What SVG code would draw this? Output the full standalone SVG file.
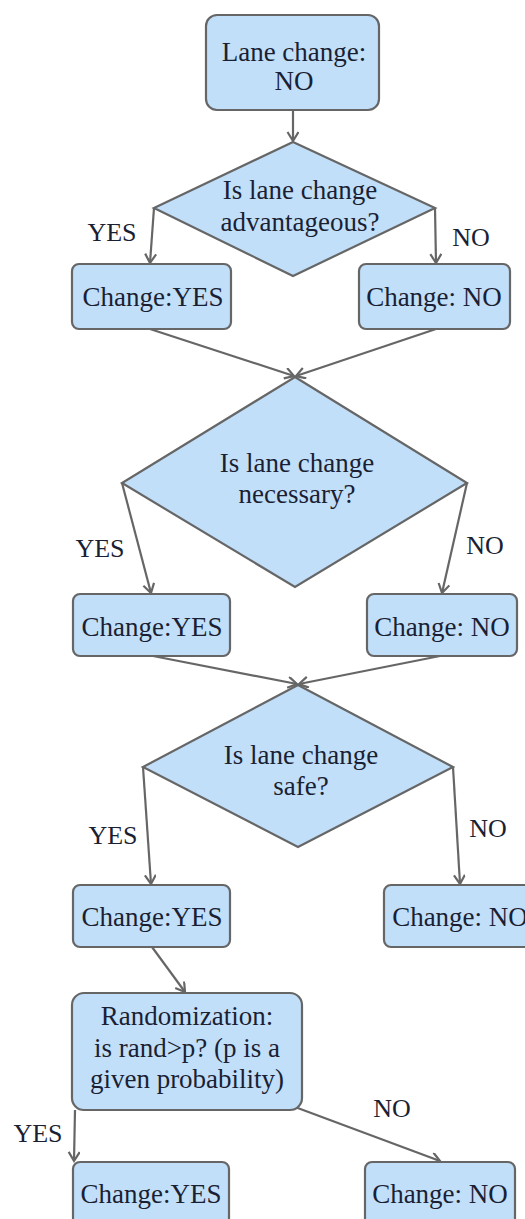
<svg xmlns="http://www.w3.org/2000/svg" width="525" height="1219" viewBox="0 0 525 1219">
<style>
.box{fill:#c2dffa;stroke:#666;stroke-width:2.2}
.t{font-family:'Liberation Serif','Times New Roman','DejaVu Serif',serif;font-size:27px;fill:#1b1f33;text-anchor:middle}
.lbl{font-family:'Liberation Serif','Times New Roman','DejaVu Serif',serif;font-size:26px;fill:#1b1f33;text-anchor:middle}
.c line{stroke:#666;stroke-width:2.2;fill:none;marker-end:url(#ah)}
</style>
<defs>
<marker id="ah" markerUnits="userSpaceOnUse" markerWidth="14" markerHeight="14" refX="10" refY="6" orient="auto">
<path d="M1,0.5 L10,6 L1,11.5" fill="none" stroke="#666" stroke-width="2.2"/>
</marker>
</defs>
<rect width="525" height="1219" fill="#fff"/>
<g class="c" id="connectors">
<line x1="293" y1="110" x2="293" y2="141"/>
<line x1="154" y1="208" x2="150" y2="263"/>
<line x1="435" y1="208" x2="436" y2="263"/>
<line x1="150" y1="329" x2="294" y2="376"/>
<line x1="436" y1="329" x2="296" y2="376"/>
<line x1="122" y1="483" x2="151" y2="593"/>
<line x1="467" y1="483" x2="442" y2="593"/>
<line x1="153" y1="656" x2="297" y2="684"/>
<line x1="440" y1="656" x2="299" y2="684"/>
<line x1="143" y1="767" x2="151" y2="884"/>
<line x1="453" y1="767" x2="460" y2="884"/>
<line x1="152" y1="947" x2="185" y2="992"/>
<line x1="75" y1="1110" x2="74" y2="1161"/>
<line x1="295" y1="1107" x2="440" y2="1161"/>
</g>
<g id="start">
<rect class="box" x="206" y="15" width="173" height="95" rx="11"/>
<text class="t" x="294" y="61" font-family="Liberation Serif, serif">Lane change:</text>
<text class="t" x="294" y="90">NO</text>
</g>
<g id="d1">
<polygon class="box" points="293,142 435,208 293,276 154,208"/>
<text class="t" x="300" y="199">Is lane change</text>
<text class="t" x="300" y="231">advantageous?</text>
</g>
<g id="b1y">
<rect class="box" x="72" y="264" width="159" height="65" rx="7"/>
<text class="t" x="153" y="306">Change:YES</text>
</g>
<g id="b1n">
<rect class="box" x="359" y="264" width="151" height="65" rx="7"/>
<text class="t" x="434" y="306">Change: NO</text>
</g>
<g id="d2">
<polygon class="box" points="295,377 467,483 295,587 122,483"/>
<text class="t" x="297" y="472">Is lane change</text>
<text class="t" x="297" y="503">necessary?</text>
</g>
<g id="b2y">
<rect class="box" x="73" y="594" width="157" height="62" rx="7"/>
<text class="t" x="152" y="636">Change:YES</text>
</g>
<g id="b2n">
<rect class="box" x="367" y="594" width="150" height="62" rx="7"/>
<text class="t" x="442" y="636">Change: NO</text>
</g>
<g id="d3">
<polygon class="box" points="298,685 453,767 298,847 143,767"/>
<text class="t" x="301" y="764">Is lane change</text>
<text class="t" x="301" y="795">safe?</text>
</g>
<g id="b3y">
<rect class="box" x="73" y="885" width="157" height="62" rx="7"/>
<text class="t" x="152" y="926">Change:YES</text>
</g>
<g id="b3n">
<rect class="box" x="384" y="885" width="152" height="62" rx="7"/>
<text class="t" x="460" y="926">Change: NO</text>
</g>
<g id="rand">
<rect class="box" x="72" y="993" width="230" height="117" rx="12"/>
<text class="t" x="187" y="1025">Randomization:</text>
<text class="t" x="187" y="1057">is rand&gt;p? (p is a</text>
<text class="t" x="187" y="1088">given probability)</text>
</g>
<g id="b4y">
<rect class="box" x="73" y="1162" width="156" height="70" rx="7"/>
<text class="t" x="151" y="1203">Change:YES</text>
</g>
<g id="b4n">
<rect class="box" x="365" y="1162" width="150" height="70" rx="7"/>
<text class="t" x="440" y="1203">Change: NO</text>
</g>
<g id="labels">
<text class="lbl" x="112" y="241">YES</text>
<text class="lbl" x="471" y="246">NO</text>
<text class="lbl" x="100" y="557">YES</text>
<text class="lbl" x="485" y="554">NO</text>
<text class="lbl" x="113" y="844">YES</text>
<text class="lbl" x="488" y="837">NO</text>
<text class="lbl" x="38" y="1142">YES</text>
<text class="lbl" x="392" y="1117">NO</text>
</g>
</svg>
